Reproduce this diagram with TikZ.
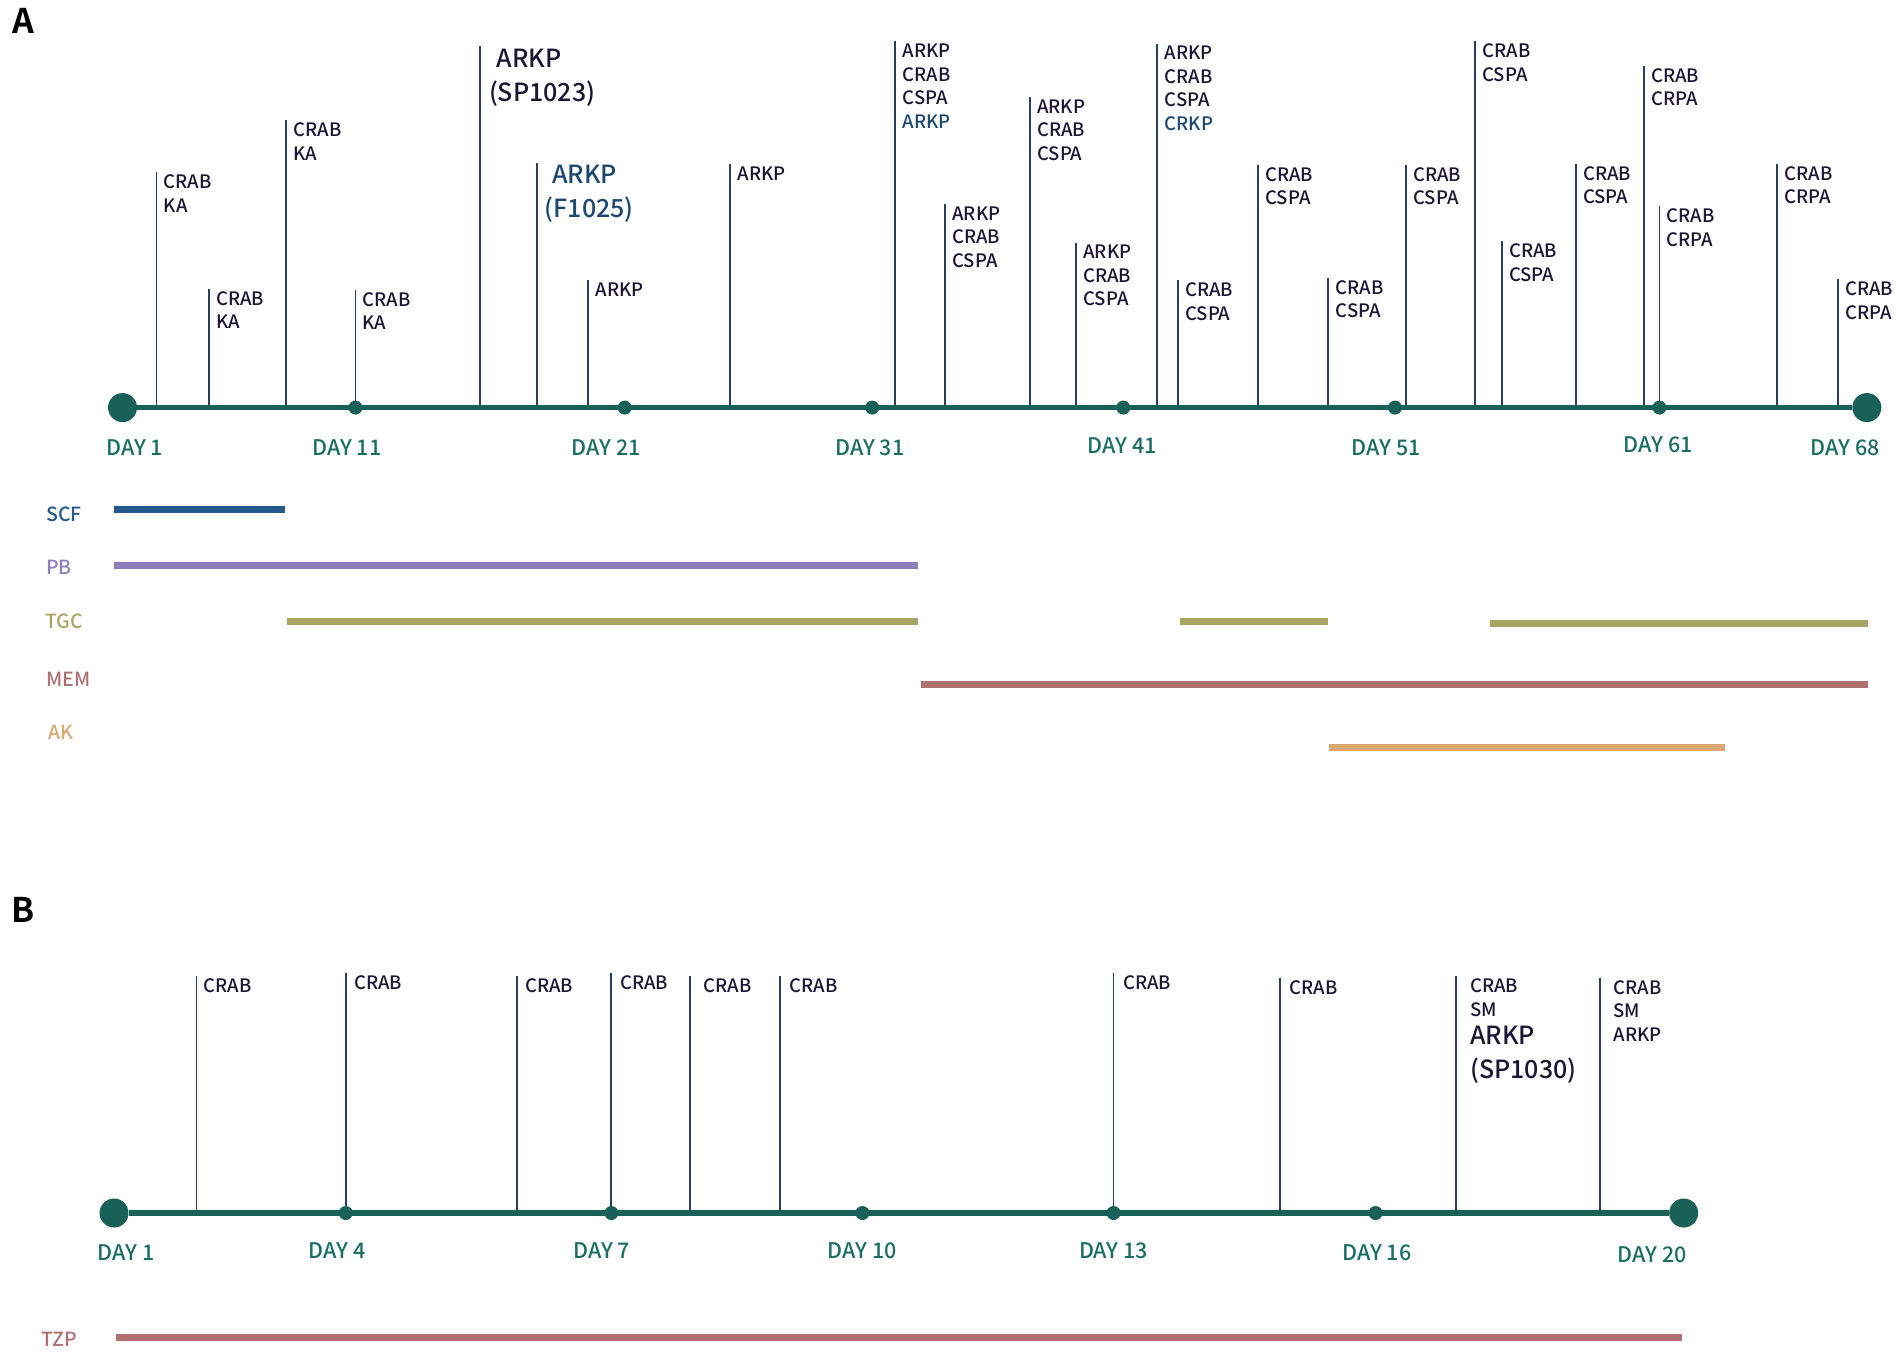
\documentclass[tikz,border=0pt]{standalone}
\usepackage{fontspec}
\setmainfont{Noto Sans CJK SC Medium}[BoldFont={Noto Sans CJK SC Bold}]
\usetikzlibrary{positioning}
\definecolor{axisc}{RGB}{24,96,88}
\definecolor{dayc}{RGB}{26,110,100}
\definecolor{spikec}{RGB}{40,62,100}
\definecolor{labc}{RGB}{28,22,52}
\definecolor{labblue}{RGB}{28,72,112}
\definecolor{scfc}{RGB}{35,90,140}
\definecolor{pbc}{RGB}{140,128,186}
\definecolor{tgcc}{RGB}{166,166,100}
\definecolor{memc}{RGB}{176,112,112}
\definecolor{akc}{RGB}{216,168,112}
\tikzset{
  tline/.style={axisc,line width=5.5pt},
  bigdot/.style={circle,fill=axisc,inner sep=0pt,minimum size=29pt},
  smalldot/.style={circle,fill=axisc,inner sep=0pt,minimum size=14pt},
  spike/.style={spikec,line width=1.8pt},
  lab/.style={labc,font=\fontsize{18.5}{23.5}\selectfont,align=left,inner sep=0pt,anchor=north west},
  biglab/.style={lab,font=\fontsize{25}{34}\selectfont},
  daylab/.style={dayc,font=\fontsize{21.5}{24}\selectfont,inner sep=0pt},
  drug/.style={font=\fontsize{19.5}{22}\selectfont,inner sep=0pt,anchor=west},
  drugbar/.style={line width=7pt},
  panel/.style={font=\fontsize{34}{36}\selectfont\bfseries,inner sep=0pt},
}
\begin{document}
\begin{tikzpicture}[x=1.213pt,y=-1.213pt]
  \useasboundingbox (0,0) rectangle (1568,1124);
  \node[panel] (pA) at (19,17) {A};
  \node[panel] (pB) at (19,750) {B};
  % A: timeline
  \coordinate (ax) at (0,336);
  \node[bigdot] (a1) at (101,336) {};
  \node[bigdot] (a68) at (1539,336) {};
  \foreach \x/\t/\txt [count=\i] in {
    129/142/{CRAB\\KA}, 172/238/{CRAB\\KA}, 236/99/{CRAB\\KA}, 293/239/{CRAB\\KA},
    485/231/{ARKP}, 602/135/{ARKP},
    738/34/{ARKP\\CRAB\\CSPA\\\textcolor{labblue}{ARKP}},
    779/168/{ARKP\\CRAB\\CSPA}, 849/80/{ARKP\\CRAB\\CSPA}, 887/200/{ARKP\\CRAB\\CSPA},
    954/36/{ARKP\\CRAB\\CSPA\\\textcolor{labblue}{CRKP}},
    971/231/{CRAB\\CSPA}, 1037/136/{CRAB\\CSPA}, 1095/229/{CRAB\\CSPA},
    1159/136/{CRAB\\CSPA}, 1216/34/{CRAB\\CSPA}, 1238/199/{CRAB\\CSPA},
    1299/135/{CRAB\\CSPA}, 1355/54/{CRAB\\CRPA}, 1368/170/{CRAB\\CRPA},
    1465/135/{CRAB\\CRPA}, 1515/230/{CRAB\\CRPA}}{
    \coordinate (ta\i) at (\x,\t);
    \draw[spike] (ta\i) -- (ta\i |- ax);
    \node[lab] (la\i) at (\x+6,\t+2) {\txt};
  }
  \coordinate (tsp) at (396,38);
  \draw[spike] (tsp) -- (tsp |- ax);
  \node[biglab] (lsp) at (403,40) {\hspace{0.3em}ARKP\\(SP1023)};
  \coordinate (tf) at (443,134);
  \draw[spike] (tf) -- (tf |- ax);
  \node[biglab,labblue] (lf) at (449,136) {\hspace{0.3em}ARKP\\(F1025)};
  \draw[tline] (a1) -- (a68);
  \foreach \x in {293,515,719,926,1150,1368}
    \node[smalldot] (dA\x) at (\x,336) {};
  \foreach \x/\y/\d in {111/369/1, 286/369/11, 500/369/21, 717/369/31,
    925/367/41, 1143/369/51, 1367/367/61, 1521/369/68}
    \node[daylab] (dayA\d) at (\x,\y) {DAY \d};
  % A: drugs
  \node[drug,scfc] (scf) at (38,424) {SCF};
  \node[drug,pbc] (pb) at (38,468) {PB};
  \node[drug,tgcc] (tgc) at (37,512) {TGC};
  \node[drug,memc] (mem) at (38,560) {MEM};
  \node[drug,akc] (ak) at (40,604) {AK};
  \draw[drugbar,scfc] (94,420) -- (235,420);
  \draw[drugbar,pbc] (94,466) -- (757,466);
  \draw[drugbar,tgcc] (237,512) -- (757,512);
  \draw[drugbar,tgcc] (973,512) -- (1095,512);
  \draw[drugbar,tgcc] (1228,514) -- (1540,514);
  \draw[drugbar,memc] (759,564) -- (1540,564);
  \draw[drugbar,akc] (1096,616) -- (1422,616);
  % B: timeline
  \coordinate (bx) at (0,1000);
  \node[bigdot] (b1) at (94,1000) {};
  \node[bigdot] (b20) at (1388,1000) {};
  \foreach \x/\t/\dx/\txt [count=\i] in {
    162/805/6/{CRAB}, 285/802/7/{CRAB}, 426/805/7/{CRAB}, 504/802/7/{CRAB},
    569/805/11/{CRAB}, 643/805/8/{CRAB}, 918/802/8/{CRAB}, 1055/806/8/{CRAB},
    1200/805/12/{CRAB\\SM}, 1319/806/11/{CRAB\\SM\\ARKP}}{
    \coordinate (tb\i) at (\x,\t);
    \draw[spike] (tb\i) -- (tb\i |- bx);
    \node[lab] (lb\i) at (\x+\dx,\t+2) {\txt};
  }
  \node[biglab,below=9pt of lb9.south west,anchor=north west] (lsp30) {ARKP\\(SP1030)};
  \draw[tline] (b1) -- (b20);
  \foreach \x in {285,504,711,918,1134}
    \node[smalldot] (dB\x) at (\x,1000) {};
  \foreach \x/\y/\d in {104/1033/1, 278/1031/4, 496/1031/7, 711/1031/10,
    918/1031/13, 1135/1033/16, 1362/1034/20}
    \node[daylab] (dayB\d) at (\x,\y) {DAY \d};
  % B: drug
  \node[drug,memc] (tzp) at (34,1104) {TZP};
  \draw[drugbar,memc] (96,1103) -- (1387,1103);
\end{tikzpicture}
\end{document}
